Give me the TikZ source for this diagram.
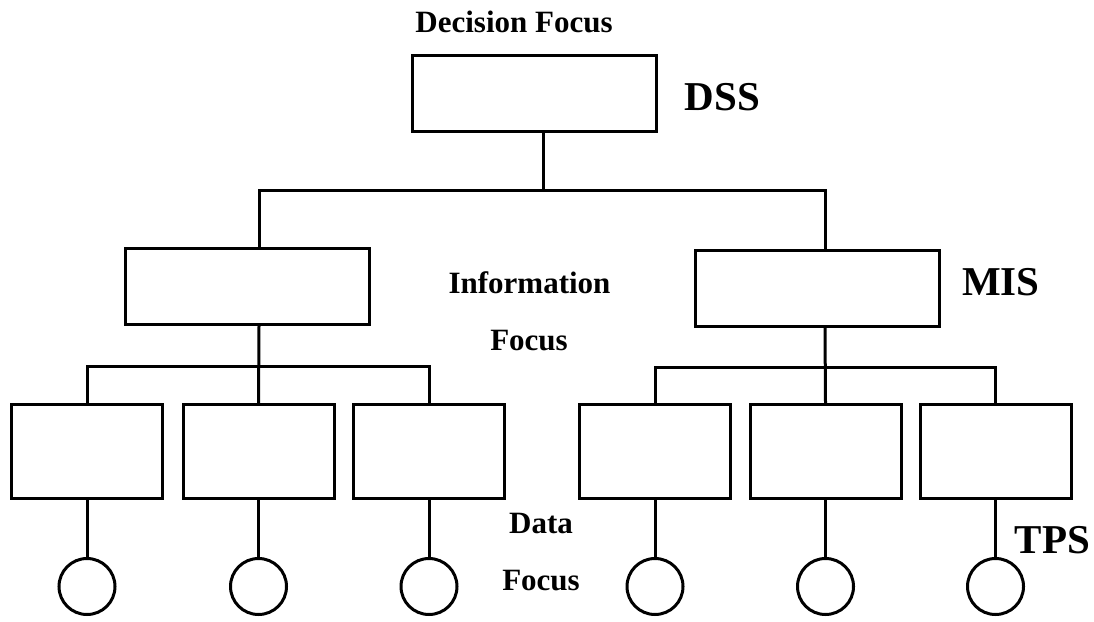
\documentclass[tikz,border=0pt]{standalone}
\usepackage{fontspec}
\setmainfont{Liberation Serif}
\usetikzlibrary{positioning}
\tikzset{
    box/.style={draw, line width=3pt, rectangle, minimum width=151pt, minimum height=94pt},
    bigbox/.style={box, minimum width=244pt, minimum height=76pt},
    leaf/.style={draw, line width=3pt, circle, minimum size=56pt, inner sep=0pt},
    link/.style={line width=3pt},
    focus/.style={font=\bfseries\fontsize{31}{36}\selectfont, anchor=base},
    sysname/.style={font=\bfseries\fontsize{41}{46}\selectfont, anchor=base}
}

\begin{document}
\begin{tikzpicture}[x=1pt, y=-1pt]
    \useasboundingbox (0,0) rectangle (1094,621);

    \node[bigbox] (dss) at (534.5,93.5) {};
    \node[bigbox] (midLeft) at (247.5,286.5) {};
    \node[bigbox] (midRight) at (817,288.5) {};

    \node[box] (low1) at (87,451.5) {};
    \node[box] (low2) at (258.5,451.5) {};
    \node[box] (low3) at (429,451.5) {};
    \node[box] (low4) at (655,451.5) {};
    \node[box] (low5) at (825.5,451.5) {};
    \node[box] (low6) at (995.5,451.5) {};

    \node[leaf, below=57pt of low1] (dot1) {};
    \node[leaf, below=57pt of low2] (dot2) {};
    \node[leaf, below=57pt of low3] (dot3) {};
    \node[leaf, below=57pt of low4] (dot4) {};
    \node[leaf, below=57pt of low5] (dot5) {};
    \node[leaf, below=57pt of low6] (dot6) {};

    \coordinate (topBus) at (543,190);
    \coordinate (leftBus) at (259,366);
    \coordinate (rightBus) at (825,367);

    \draw[link] (dss.south -| topBus) -- (topBus);
    \draw[link] (midLeft.north -| leftBus) -- (leftBus |- topBus) -- (rightBus |- topBus) -- (midRight.north -| rightBus);

    \draw[link] (midLeft.south -| leftBus) -- (low2.north);
    \draw[link] (low1.north) -- (low1.north |- leftBus) -- (low3.north |- leftBus) -- (low3.north);
    \draw[link] (midRight.south -| rightBus) -- (low5.north);
    \draw[link] (low4.north) -- (low4.north |- rightBus) -- (low6.north |- rightBus) -- (low6.north);

    \draw[link] (low1.south) -- (dot1.north);
    \draw[link] (low2.south) -- (dot2.north);
    \draw[link] (low3.south) -- (dot3.north);
    \draw[link] (low4.south) -- (dot4.north);
    \draw[link] (low5.south) -- (dot5.north);
    \draw[link] (low6.south) -- (dot6.north);

    \node[focus] (decisionLabel) at (514,32) {Decision Focus};
    \node[focus] (infoLabel) at (529.5,293) {Information};
    \node[focus] (infoFocus) at (529,350) {Focus};
    \node[focus] (dataLabel) at (541,533) {Data};
    \node[focus] (dataFocus) at (541,590) {Focus};

    \node[sysname] (dssLabel) at (722.5,110) {DSS};
    \node[sysname] (misLabel) at (1001,295) {MIS};
    \node[sysname] (tpsLabel) at (1052.5,553) {TPS};
\end{tikzpicture}
\end{document}
